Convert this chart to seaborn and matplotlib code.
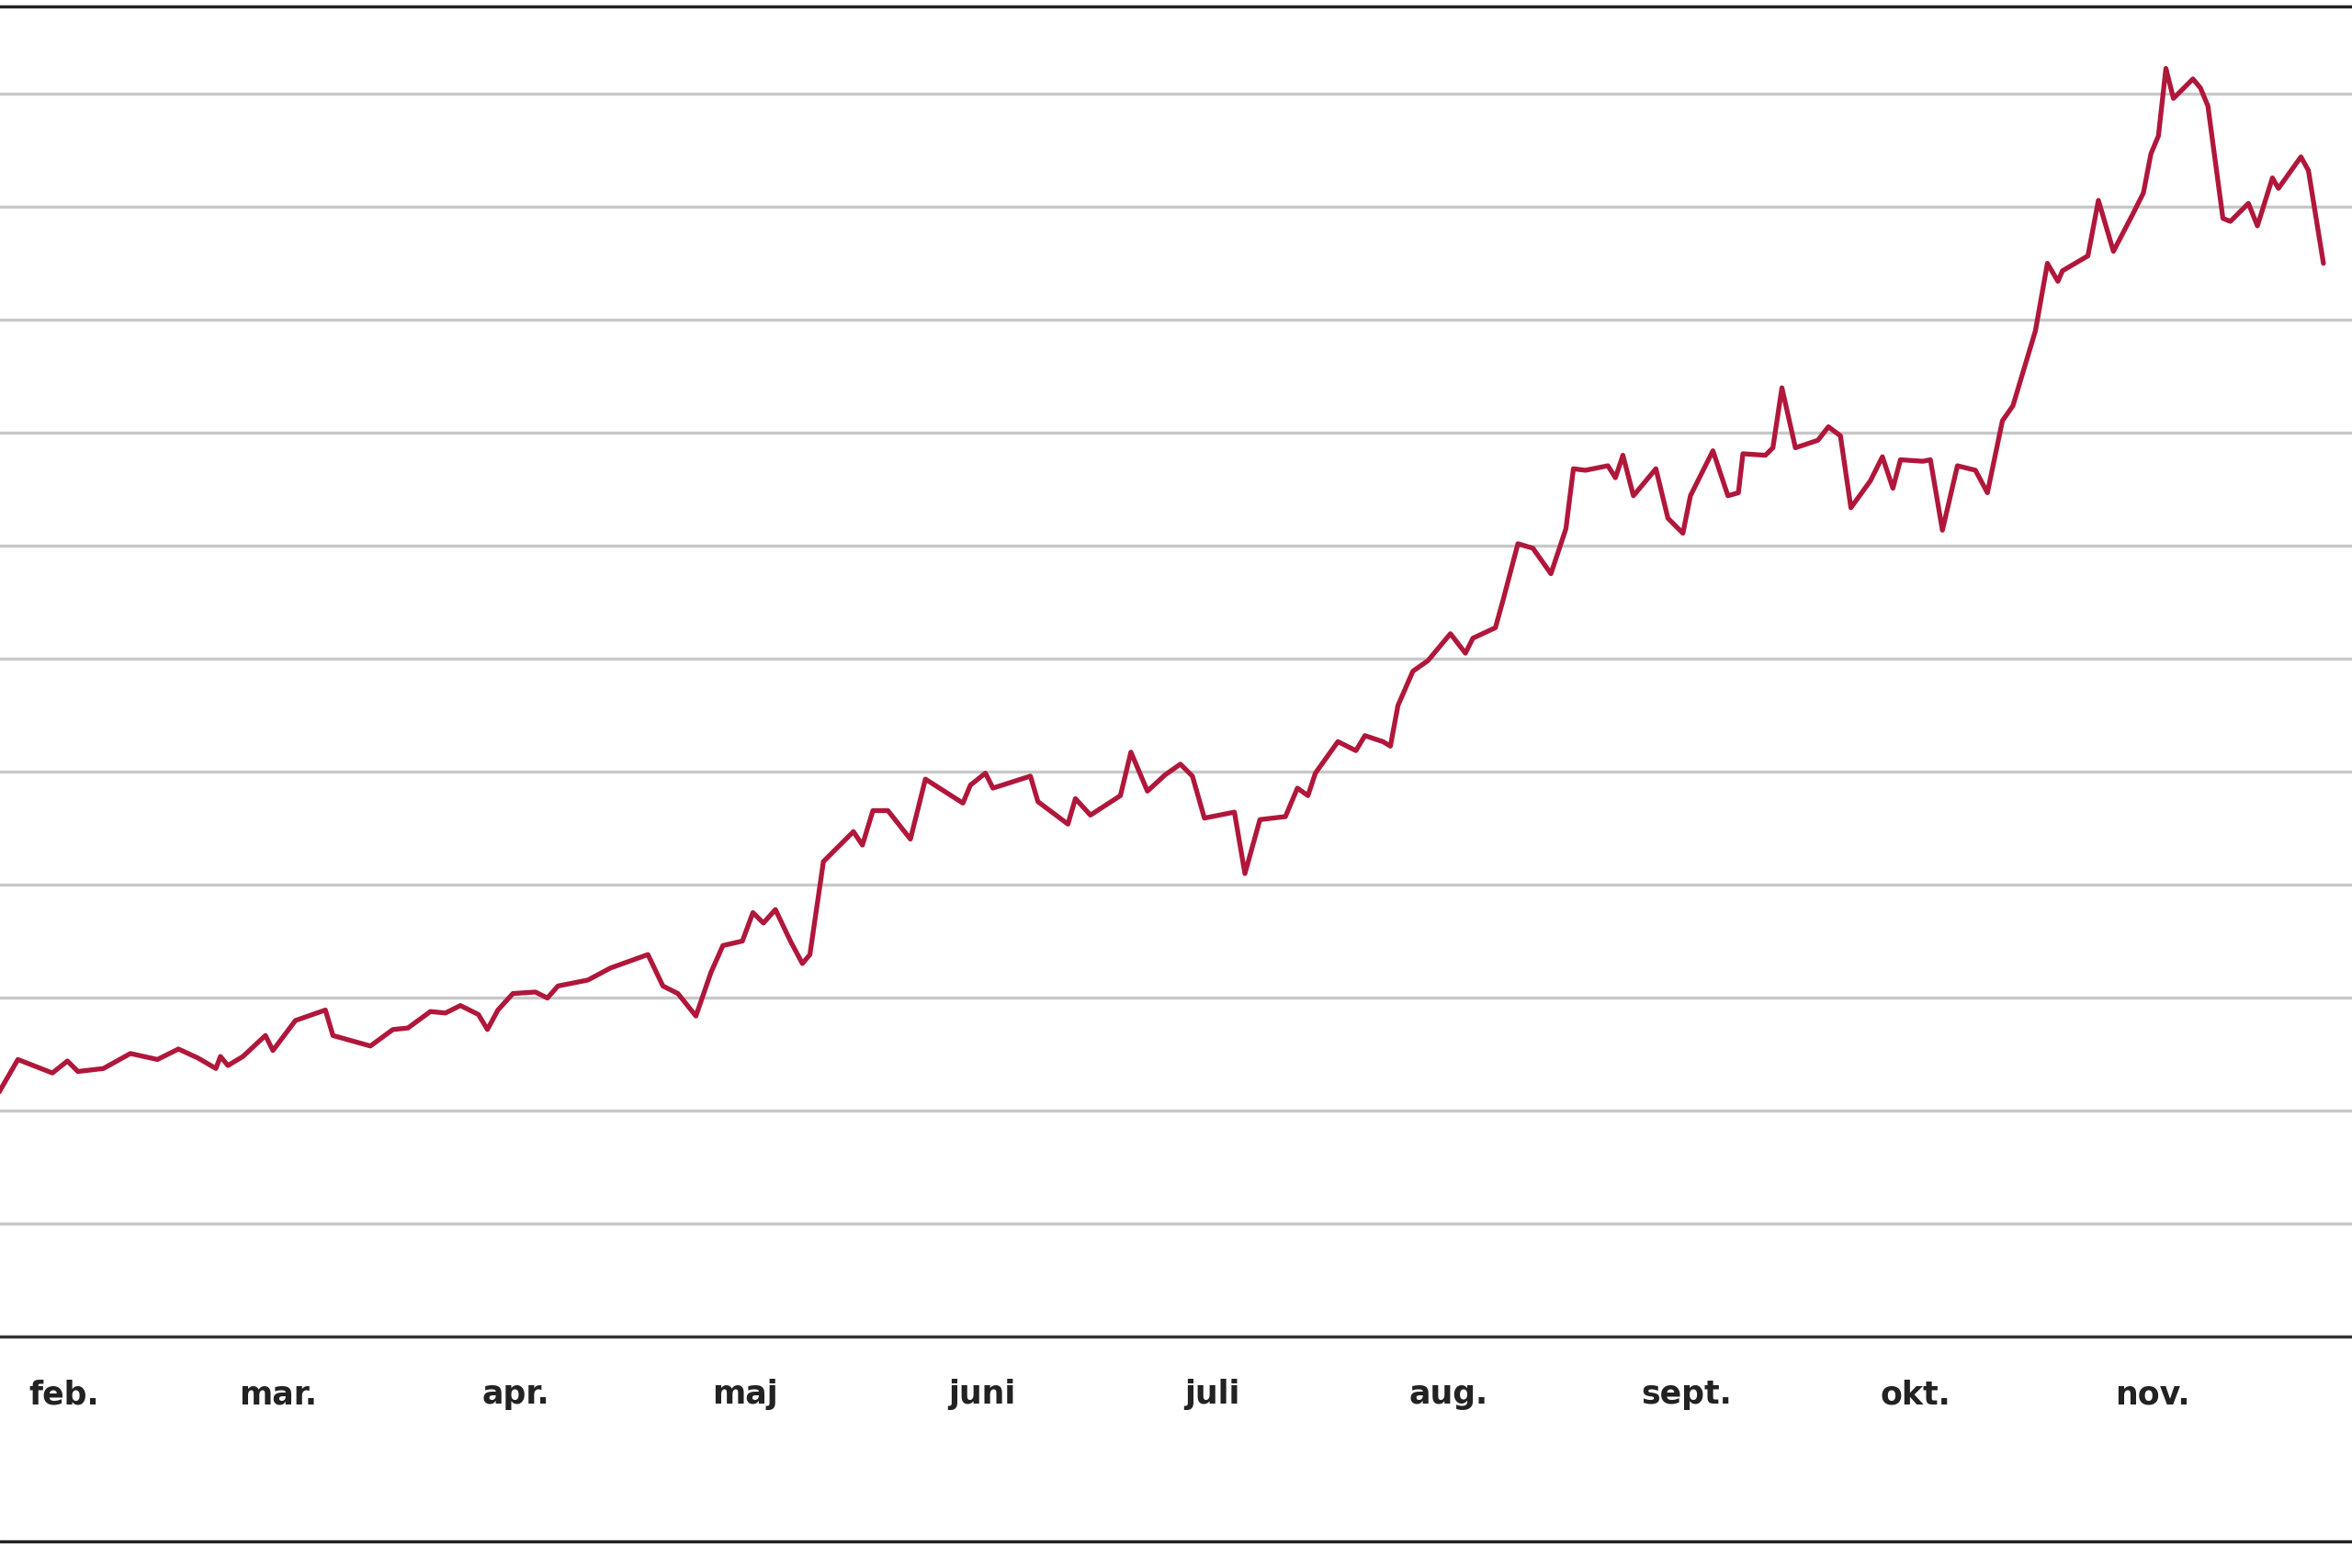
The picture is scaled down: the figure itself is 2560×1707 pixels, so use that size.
import matplotlib
matplotlib.use("Agg")
import matplotlib.pyplot as plt
import seaborn as sns
import pandas as pd

# horizontal positions (in days since 2023-01-23, ~5.1 px/day)
x_px = [0,15,38,48,55,72,90,108,122,135,147,150,155,165,180,185,200,220,225,250,265,275,290,300,310,322,328,335,345,360,368,375,395,410,435,445,455,467,477,485,498,505,512,520,530,538,543,552,572,578,585,595,610,620,645,650,660,665,690,695,715,720,730,750,757,768,780,790,798,806,826,833,843,860,868,875,880,895,907,913,925,930,935,945,955,970,980,985,1000,1005,1015,1025,1037,1047,1052,1060,1075,1080,1085,1092,1107,1115,1125,1130,1145,1155,1162,1165,1180,1185,1191,1200,1215,1222,1230,1237,1250,1258,1265,1270,1285,1290,1298,1308,1320,1328,1338,1345,1360,1368,1375,1378,1395,1402,1412,1425,1432,1437,1442,1447,1452,1465,1470,1475,1485,1490,1502,1508,1518,1522,1537,1542,1552]
y_px = [732,706,715,707,714,712,702,706,699,705,712,704,710,704,690,700,680,673,690,697,686,685,674,675,670,676,686,673,662,661,665,657,653,645,636,657,662,677,648,630,627,608,615,606,627,642,636,574,554,563,540,540,559,519,535,523,515,525,517,534,549,532,543,530,501,527,516,509,517,545,541,582,546,544,525,530,515,494,500,490,494,497,470,447,440,422,435,425,418,400,362,365,382,352,312,313,310,318,303,330,312,345,355,330,300,330,328,302,303,298,258,298,293,284,290,338,320,304,325,306,307,306,353,310,313,328,280,270,220,175,187,180,170,133,167,142,128,102,90,45,65,52,58,70,145,147,135,150,118,125,104,113,175]

start = pd.Timestamp("2023-01-23")
dates = [start + pd.Timedelta(days=x / 5.1) for x in x_px]
values = [(891 - y) / 75.4 for y in y_px]  # in gridline units
month_ticks = ["2023-02-01","2023-03-01","2023-04-01","2023-05-01","2023-06-01",
               "2023-07-01","2023-08-01","2023-09-01","2023-10-01","2023-11-01"]
month_labels = ["feb.","mar.","apr.","maj","juni","juli","aug.","sept.","okt.","nov."]

df = pd.DataFrame({"date": dates, "value": values})

sns.set_style("white")
fig = plt.figure(figsize=(25.6, 17.07), dpi=100)
ax = fig.add_axes([0.0, 0.1474, 1.0, 0.8486])
for g in range(1, 12):
    ax.axhline(g, color="#c8c8c8", lw=2.4, zorder=1)
sns.lineplot(data=df, x="date", y="value", ax=ax, color="#b0173a", lw=3.8, zorder=3)
ax.set_xlim(start + pd.Timedelta(days=0.6), start + pd.Timedelta(days=0.6 + 1568 / 5.1))
ax.set_ylim(0, 11.77)
ax.set_yticks([])
ax.set_xticks(pd.to_datetime(month_ticks))
ax.set_xticklabels(month_labels, fontsize=25, fontweight="bold", color="#222222")
ax.tick_params(axis="x", length=0, pad=33)
ax.set_xlabel(""); ax.set_ylabel("")
for s in ["left", "right"]:
    ax.spines[s].set_visible(False)
ax.spines["top"].set_color("#222222"); ax.spines["top"].set_linewidth(2.5)
ax.spines["bottom"].set_color("#333333"); ax.spines["bottom"].set_linewidth(2.5)
fig.add_artist(plt.Line2D([0, 1], [1 - 1027 / 1045] * 2, color="#222222", lw=2.5))
fig.savefig("out.png", dpi=100)
